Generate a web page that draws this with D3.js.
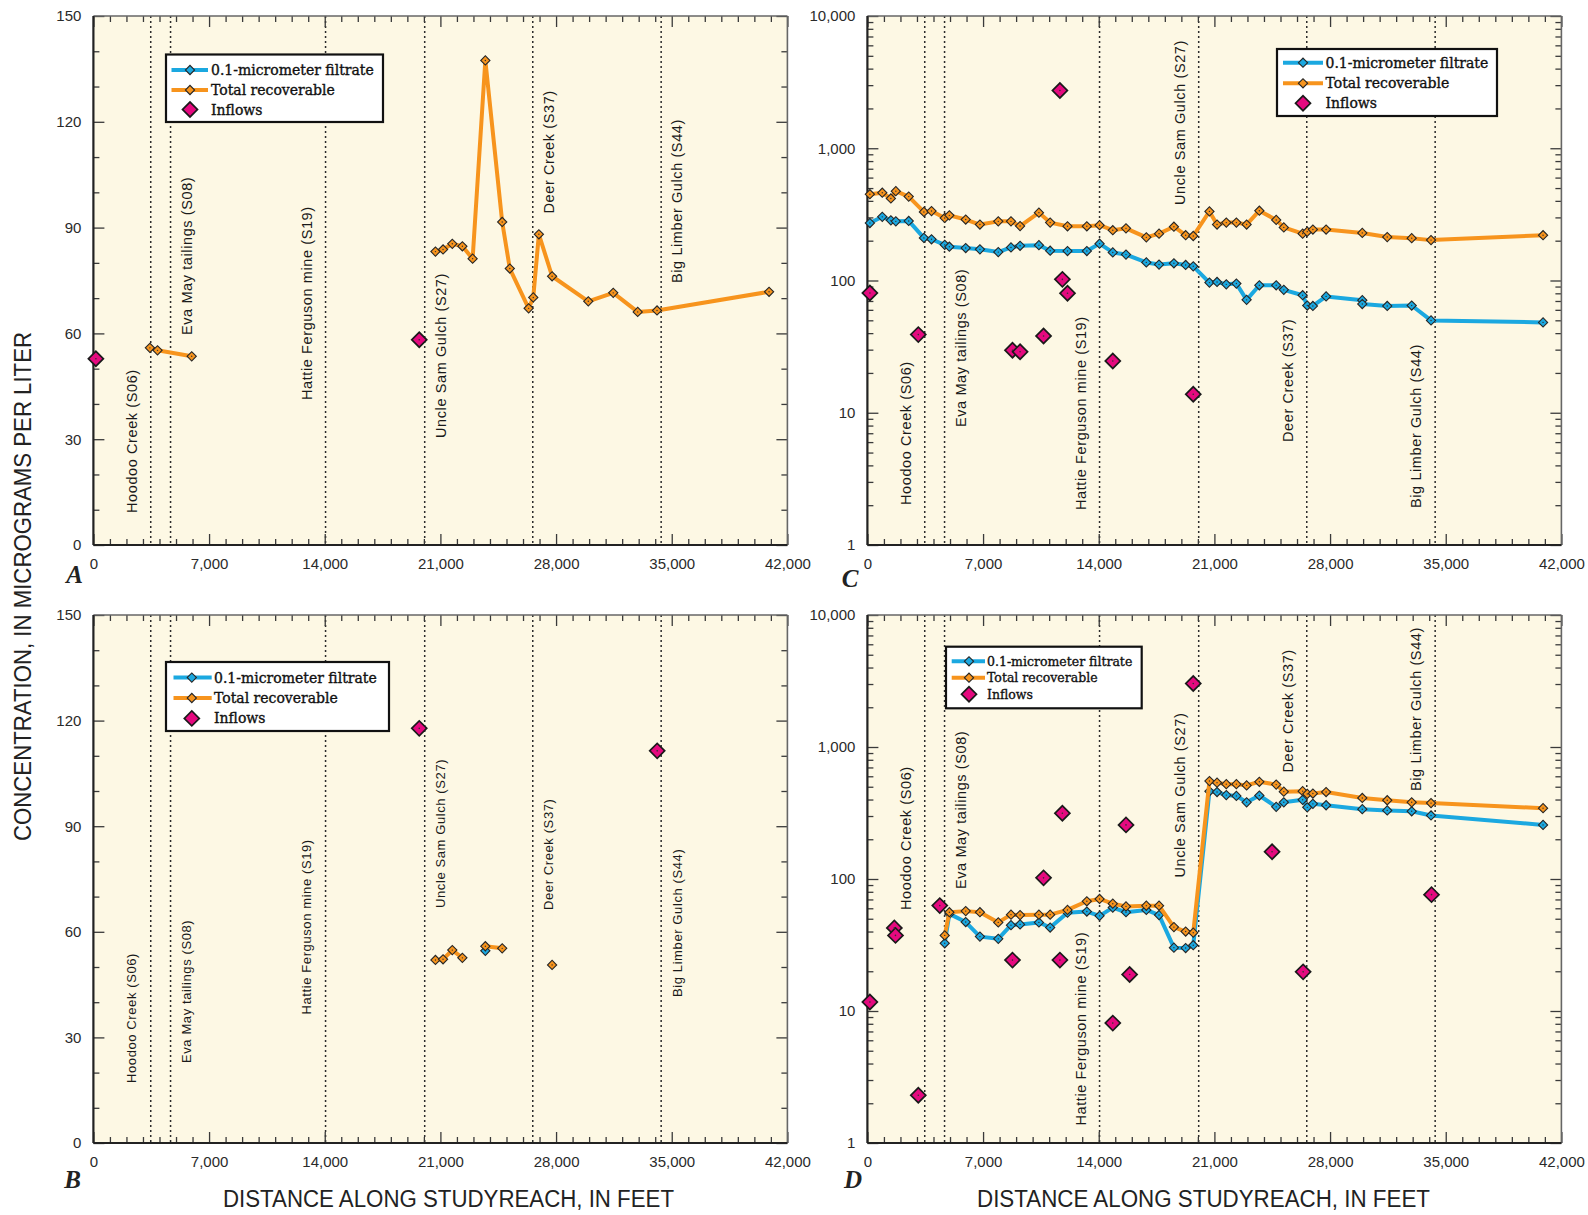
<!DOCTYPE html>
<html><head><meta charset="utf-8">
<script src="https://cdn.jsdelivr.net/npm/d3@7"></script>
<style>body{margin:0;background:#fff}</style>
</head><body>
<svg id="chart" width="1588" height="1215" xmlns="http://www.w3.org/2000/svg"></svg>
<script>
// ---------------- DATA ----------------
const siteNames = ["Hoodoo Creek (S06)", "Eva May tailings (S08)", "Hattie Ferguson mine (S19)",
                   "Uncle Sam Gulch (S27)", "Deer Creek (S37)", "Big Limber Gulch (S44)"];
const siteDist = [3470, 4670, 14050, 20050, 26590, 34360];

const xTickValues = [0, 7000, 14000, 21000, 28000, 35000, 42000];
const linTickValues = [0, 30, 60, 90, 120, 150];
const logTickValues = [1, 10, 100, 1000, 10000];

const seriesNames = ["0.1-micrometer filtrate", "Total recoverable", "Inflows"];

// Panel A (linear) - null marks a break in the line
const aTotalDist = [3420, 3880, 5950, null, 20700, 21160, 21720, 22330, 22950, 23720, 24740, 25200, 26340, 26620, 26960, 27760, 29950, 31460, 32940, 34110, 40890];
const aTotalVal  = [55.9, 55.2, 53.5, null, 83.2, 83.8, 85.4, 84.7, 81.2, 137.4, 91.6, 78.4, 67.1, 70.2, 88.1, 76.2, 69.1, 71.5, 66.1, 66.5, 71.8];
const aFiltDist = [];
const aFiltVal = [];
const aInflowDist = [150, 19720];
const aInflowVal  = [52.8, 58.2];

// Panel B (linear)
const bTotalDist = [20700, 21160, 21720, 22330, null, 23720, 24740, null, 27760];
const bTotalVal  = [52.0, 52.2, 54.8, 52.6, null, 55.9, 55.3, null, 50.6];
const bFiltDist = [23720];
const bFiltVal  = [54.6];
const bInflowDist = [19720, 34120];
const bInflowVal  = [117.8, 111.4];

// Panel C (log)
const cTotalDist = [150, 900, 1420, 1720, 2500, 3420, 3880, 4680, 4960, 5950, 6810, 7920, 8690, 9240, 10380, 11060, 12110, 13280, 14050, 14850, 15650, 16880, 17650, 18550, 19260, 19720, 20700, 21160, 21720, 22330, 22950, 23720, 24740, 25200, 26340, 26620, 26960, 27760, 29950, 31460, 32940, 34110, 40890];
const cTotalVal  = [449, 461, 417, 474, 431, 330, 335, 297, 311, 289, 265, 280, 280, 258, 326, 274, 257, 257, 262, 240, 248, 212, 226, 255, 220, 217, 333, 265, 274, 274, 265, 337, 287, 252, 226, 234, 243, 243, 229, 213, 209, 202, 220];
const cFiltDist = [150, 900, 1420, 1720, 2500, 3420, 3880, 4680, 4960, 5950, 6810, 7920, 8690, 9240, 10380, 11060, 12110, 13280, 14050, 14850, 15650, 16880, 17650, 18550, 19260, 19720, 20700, 21160, 21720, 22330, 22950, 23720, 24740, 25200, 26340, 26620, 26960, 27760, 29950, 29950, 31460, 32940, 34110, 40890];
const cFiltVal  = [272, 303, 285, 280, 282, 210, 205, 186, 180, 176, 172, 164, 178, 183, 185, 168, 167, 167, 190, 163, 157, 137, 132, 135, 131, 128, 96.4, 97.5, 93.5, 94.8, 71.4, 92, 92, 85, 77.4, 64.7, 64.2, 75.8, 71, 66.4, 64.2, 64.7, 49.9, 48.2];
const cInflowDist = [150, 3080, 8780, 9240, 10660, 11650, 11800, 12110, 14850, 19720];
const cInflowVal  = [80.5, 39, 29.7, 28.9, 38, 2730, 102, 80, 24.6, 13.8];

// Panel D (log)
const dDist = [4680, 4960, 5950, 6810, 7920, 8690, 9240, 10380, 11060, 12110, 13280, 14050, 14850, 15650, 16880, 17650, 18550, 19260, 19720, 20700, 21160, 21720, 22330, 22950, 23720, 24740, 25200, 26340, 26620, 26960, 27760, 29950, 31460, 32940, 34110, 40890];
const dTotalVal = [37.4, 56, 57.1, 56, 46.9, 53.7, 53.3, 53.7, 53.7, 58.3, 67.8, 70.6, 65, 62, 62.8, 62.8, 43.2, 40, 39.2, 552, 537, 523, 523, 512, 545, 519, 459, 463, 441, 444, 456, 411, 395, 381, 376, 344];
const dFiltVal  = [32.6, 54.4, 47.2, 36.6, 35.2, 44.7, 45.3, 46.9, 42.9, 55.6, 56.7, 52.6, 60.7, 56.0, 58.3, 53.3, 30.2, 30.0, 31.5, 462, 456, 432, 426, 381, 429, 352, 381, 398, 349, 371, 362, 338, 331, 326, 303, 257];
const dInflowDist = [150, 1630, 1700, 3080, 4380, 8780, 10660, 11650, 11800, 14850, 15650, 15870, 19720, 24490, 26370, 34140];
const dInflowVal  = [11.7, 42.6, 37.4, 2.3, 62.9, 24.3, 102, 24.3, 315, 8.1, 257, 18.9, 3025, 161, 19.8, 76.1];

// ---------------- STYLE / LAYOUT ----------------
const COL_BG = "#fdf8e4";
const COL_FILT = "#1ba8e0";
const COL_TOTAL = "#f7941d";
const COL_INFLOW = "#e5097f";
const COL_EDGE = "#262626";
const SANS = "'Liberation Sans', Arial, sans-serif";
const SERIF_LEG = "'DejaVu Serif', serif";

const panels = [
  { letter: "A", log: false, left: 93.4, top: 16, width: 694, height: 529,
    filt: [aFiltDist, aFiltVal], total: [aTotalDist, aTotalVal], inflow: [aInflowDist, aInflowVal],
    labels: [["L", 497], ["R", 319], ["L", 384], ["R", 422], ["R", 197.5], ["R", 267]], labelSize: 14.5,
    legend: { x: 166, y: 54.5, w: 217, h: 67.5, rows: [70, 90, 109.5], lx0: 171.5, lx1: 208, mx: 190, tx: 211, fs: 14 },
    letterPos: [74.5, 574] },
  { letter: "C", log: true, left: 867.4, top: 16, width: 694, height: 529,
    filt: [cFiltDist, cFiltVal], total: [cTotalDist, cTotalVal], inflow: [cInflowDist, cInflowVal],
    labels: [["L", 489], ["R", 411], ["L", 494], ["L", 189], ["L", 426], ["L", 492]], labelSize: 14.5,
    legend: { x: 1277, y: 49, w: 220, h: 67, rows: [62.7, 83.3, 103.3], lx0: 1283, lx1: 1323, mx: 1303, tx: 1325.5, fs: 14 },
    letterPos: [850, 578] },
  { letter: "B", log: false, left: 93.4, top: 615, width: 694, height: 528,
    filt: [bFiltDist, bFiltVal], total: [bTotalDist, bTotalVal], inflow: [bInflowDist, bInflowVal],
    labels: [["L", 468], ["R", 448], ["L", 399.5], ["R", 293], ["R", 295], ["R", 382]], labelSize: 13,
    legend: { x: 166, y: 662, w: 223, h: 69, rows: [677.6, 698, 718.4], lx0: 173.5, lx1: 211.7, mx: 191.8, tx: 214, fs: 14 },
    letterPos: [72.5, 1179] },
  { letter: "D", log: true, left: 867.4, top: 615, width: 694, height: 528,
    filt: [dDist, dFiltVal], total: [dDist, dTotalVal], inflow: [dInflowDist, dInflowVal],
    labels: [["L", 295], ["R", 274], ["L", 510.5], ["L", 262.6], ["L", 157.5], ["L", 176]], labelSize: 14.5,
    legend: { x: 946, y: 646.7, w: 195.7, h: 61.6, rows: [661.3, 677.7, 694.3], lx0: 951.7, lx1: 985, mx: 969, tx: 987, fs: 12.5 },
    letterPos: [853, 1179] }
];

const svg = d3.select("#chart");
svg.append("rect").attr("width", 1588).attr("height", 1215).attr("fill", "#fff");

function diamondPath(half) {
  const side = half * Math.SQRT2;
  return d3.symbol(d3.symbolSquare, side * side)();
}

function zip(dist, val) {
  return dist.map((d, i) => ({ d: d, v: val[i] }));
}

function drawPanel(p) {
  const x = d3.scaleLinear().domain([0, 42000]).range([p.left, p.left + p.width]);
  const y = p.log
    ? d3.scaleLog().domain([1, 10000]).range([p.top + p.height, p.top])
    : d3.scaleLinear().domain([0, 150]).range([p.top + p.height, p.top]);
  const g = svg.append("g");
  const bottom = p.top + p.height, right = p.left + p.width;

  g.append("rect").attr("x", p.left).attr("y", p.top).attr("width", p.width).attr("height", p.height)
    .attr("fill", COL_BG);

  // site dotted lines
  g.append("g").selectAll("line").data(siteDist).join("line")
    .attr("x1", d => x(d)).attr("x2", d => x(d)).attr("y1", p.top).attr("y2", bottom)
    .attr("stroke", "#2b2b2b").attr("stroke-width", 1.5).attr("stroke-dasharray", "2,3");

  // site labels
  g.append("g").selectAll("text").data(siteNames).join("text")
    .attr("transform", (d, i) => {
      const [side, yy] = p.labels[i];
      const cx = x(siteDist[i]) + (side === "L" ? -19 : 16);
      return `translate(${cx},${p.top + yy}) rotate(-90)`;
    })
    .attr("dominant-baseline", "central")
    .attr("font-family", SANS).attr("font-size", p.labelSize).attr("letter-spacing", 0.6)
    .attr("fill", "#1a1a1a")
    .text(d => d);

  // ticks
  const xMinor = d3.range(0, 42001, 1000).filter(v => !xTickValues.includes(v));
  let yMajor, yMinor;
  if (p.log) {
    yMajor = logTickValues;
    yMinor = [];
    logTickValues.slice(0, -1).forEach(dec => { for (let k = 2; k <= 9; k++) yMinor.push(dec * k); });
  } else {
    yMajor = linTickValues;
    yMinor = d3.range(0, 151, 10).filter(v => !linTickValues.includes(v));
  }
  const fmt = d3.format(",");
  const styleAxis = sel => {
    sel.select(".domain").remove();
    sel.selectAll(".tick line").attr("stroke", "#3a3a3a").attr("stroke-width", 1.3);
    sel.selectAll(".tick text").attr("font-family", SANS).attr("font-size", 15).attr("fill", "#2a2a2a");
  };
  g.append("g").attr("transform", `translate(0,${bottom})`)
    .call(d3.axisBottom(x).tickValues(xTickValues).tickSize(-11).tickPadding(13).tickFormat(fmt)).call(styleAxis);
  g.append("g").attr("transform", `translate(0,${bottom})`)
    .call(d3.axisBottom(x).tickValues(xMinor).tickSize(-6).tickFormat("")).call(styleAxis);
  g.append("g").attr("transform", `translate(0,${p.top})`)
    .call(d3.axisTop(x).tickValues(xTickValues).tickSize(-11).tickFormat("")).call(styleAxis);
  g.append("g").attr("transform", `translate(0,${p.top})`)
    .call(d3.axisTop(x).tickValues(xMinor).tickSize(-6).tickFormat("")).call(styleAxis);
  g.append("g").attr("transform", `translate(${p.left},0)`)
    .call(d3.axisLeft(y).tickValues(yMajor).tickSize(-11).tickPadding(12).tickFormat(fmt)).call(styleAxis);
  g.append("g").attr("transform", `translate(${p.left},0)`)
    .call(d3.axisLeft(y).tickValues(yMinor).tickSize(-6).tickFormat("")).call(styleAxis);
  g.append("g").attr("transform", `translate(${right},0)`)
    .call(d3.axisRight(y).tickValues(yMajor).tickSize(-11).tickFormat("")).call(styleAxis);
  g.append("g").attr("transform", `translate(${right},0)`)
    .call(d3.axisRight(y).tickValues(yMinor).tickSize(-6).tickFormat("")).call(styleAxis);

  // frame
  g.append("line").attr("x1", p.left).attr("x2", right).attr("y1", p.top).attr("y2", p.top)
    .attr("stroke", "#666").attr("stroke-width", 1.6);
  g.append("line").attr("x1", right).attr("x2", right).attr("y1", p.top).attr("y2", bottom)
    .attr("stroke", "#666").attr("stroke-width", 1.6);
  g.append("line").attr("x1", p.left).attr("x2", right).attr("y1", bottom).attr("y2", bottom)
    .attr("stroke", "#222").attr("stroke-width", 2.2);
  g.append("line").attr("x1", p.left).attr("x2", p.left).attr("y1", p.top).attr("y2", bottom)
    .attr("stroke", "#222").attr("stroke-width", 2.2);

  const line = d3.line().defined(d => d.v != null).x(d => x(d.d)).y(d => y(d.v));
  const smallD = diamondPath(4.6);
  const bigD = diamondPath(7.5);

  function drawSeries(pair, color) {
    const data = zip(pair[0], pair[1]);
    g.append("path").datum(data).attr("d", line).attr("fill", "none")
      .attr("stroke", color).attr("stroke-width", 4).attr("stroke-linejoin", "round").attr("stroke-linecap", "round");
    const pts = data.filter(d => d.v != null);
    const mg = g.append("g");
    mg.selectAll("path").data(pts).join("path")
      .attr("d", smallD).attr("transform", d => `translate(${x(d.d)},${y(d.v)}) rotate(45)`)
      .attr("fill", color).attr("stroke", COL_EDGE).attr("stroke-width", 1.1);
    mg.selectAll("circle").data(pts).join("circle")
      .attr("cx", d => x(d.d)).attr("cy", d => y(d.v)).attr("r", 0.7).attr("fill", "#333");
  }
  drawSeries(p.filt, COL_FILT);
  drawSeries(p.total, COL_TOTAL);

  const inf = zip(p.inflow[0], p.inflow[1]);
  const ig = g.append("g");
  ig.selectAll("path").data(inf).join("path")
    .attr("d", bigD).attr("transform", d => `translate(${x(d.d)},${y(d.v)}) rotate(45)`)
    .attr("fill", COL_INFLOW).attr("stroke", "#1a1a1a").attr("stroke-width", 1.7);
  ig.selectAll("circle").data(inf).join("circle")
    .attr("cx", d => x(d.d)).attr("cy", d => y(d.v)).attr("r", 0.8).attr("fill", "#333");

  // legend
  const L = p.legend;
  const lg = g.append("g");
  lg.append("rect").attr("x", L.x).attr("y", L.y).attr("width", L.w).attr("height", L.h)
    .attr("fill", "#fff").attr("stroke", "#111").attr("stroke-width", 2.2);
  const colors = [COL_FILT, COL_TOTAL];
  colors.forEach((c, i) => {
    lg.append("line").attr("x1", L.lx0).attr("x2", L.lx1).attr("y1", L.rows[i]).attr("y2", L.rows[i])
      .attr("stroke", c).attr("stroke-width", 4);
    lg.append("path").attr("d", smallD).attr("transform", `translate(${L.mx},${L.rows[i]}) rotate(45)`)
      .attr("fill", c).attr("stroke", COL_EDGE).attr("stroke-width", 1.1);
  });
  lg.append("path").attr("d", bigD).attr("transform", `translate(${L.mx},${L.rows[2]}) rotate(45)`)
    .attr("fill", COL_INFLOW).attr("stroke", "#1a1a1a").attr("stroke-width", 1.7);
  lg.selectAll("text").data(seriesNames).join("text")
    .attr("x", L.tx).attr("y", (d, i) => L.rows[i]).attr("dominant-baseline", "central")
    .attr("font-family", SERIF_LEG).attr("font-size", L.fs).attr("fill", "#111")
    .attr("stroke", "#111").attr("stroke-width", 0.35)
    .text(d => d);

  // panel letter
  g.append("text").attr("x", p.letterPos[0]).attr("y", p.letterPos[1])
    .attr("text-anchor", "middle").attr("dominant-baseline", "central")
    .attr("font-family", "'Liberation Serif', 'Times New Roman', serif").attr("font-style", "italic")
    .attr("font-weight", "bold").attr("font-size", 25).attr("fill", "#222")
    .text(p.letter);
}

panels.forEach(drawPanel);

// axis titles
svg.append("text").attr("transform", "translate(22.5,586.5) rotate(-90)")
  .attr("text-anchor", "middle").attr("dominant-baseline", "central")
  .attr("font-family", SANS).attr("font-size", 23).attr("fill", "#222")
  .attr("textLength", 509).attr("lengthAdjust", "spacingAndGlyphs")
  .text("CONCENTRATION, IN MICROGRAMS PER LITER");
[[448.5, 1199, 451], [1203.5, 1199, 453]].forEach(([cx, cy, len]) => {
  svg.append("text").attr("x", cx).attr("y", cy)
    .attr("text-anchor", "middle").attr("dominant-baseline", "central")
    .attr("font-family", SANS).attr("font-size", 23).attr("fill", "#222")
    .attr("textLength", len).attr("lengthAdjust", "spacingAndGlyphs")
    .text("DISTANCE ALONG STUDYREACH, IN FEET");
});
</script>
</body></html>
